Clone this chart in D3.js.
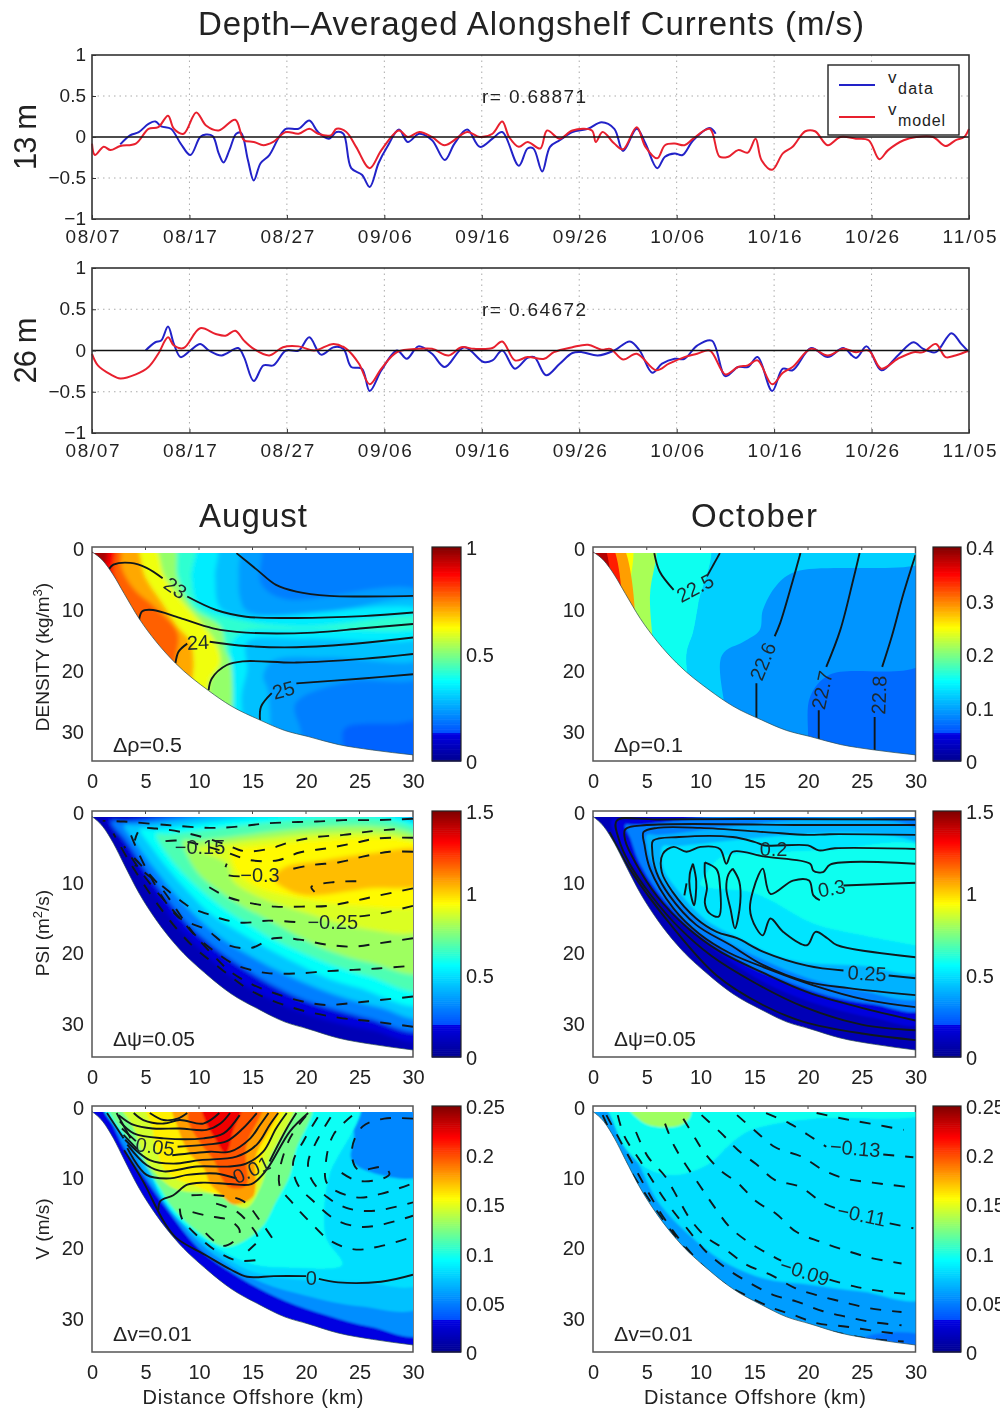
<!DOCTYPE html>
<html><head><meta charset="utf-8">
<script src="https://cdn.jsdelivr.net/npm/d3@7"></script>
<style>html,body{margin:0;padding:0;background:#fff}svg{display:block;filter:blur(0.55px)}text{font-family:"Liberation Sans",Arial,sans-serif;fill:#222}</style>
</head><body><div id="c"></div>
<script>
// ---------- time series ----------
const dateLabels=["08/07","08/17","08/27","09/06","09/16","09/26","10/06","10/16","10/26","11/05"];
const dateTicks=[0,10,20,30,40,50,60,70,80,90];
const days13Data=[2.9,3.9,4.8,5.8,6.5,7.1,8.1,9.1,10.1,11.1,11.7,12.4,13,13.5,14.1,14.8,15.3,16,16.6,17.3,18.2,19.2,19.9,21.2,22.3,23.2,24.3,25.1,25.8,26.6,27.7,28.5,29.4,30.3,31.5,32.4,33.6,34.9,36.2,37.2,38.5,39.8,41.1,42.1,43.8,44.7,45.3,46.2,47,48,49.3,50.9,52.3,53.6,54.5,55.9,56.8,58,58.8,59.8,60.6,61.7,63.4,64];
const v13Data=[-.09,.02,.06,.16,.19,.13,.10,-.08,-.22,0,.03,.01,-.20,-.31,-.16,.04,.05,-.28,-.53,-.32,-.22,0,.10,.10,.20,.06,-.02,.06,.04,-.38,-.46,-.61,-.32,-.12,.09,-.06,.04,-.04,-.28,-.08,.09,-.12,-.02,.06,-.35,-.14,-.14,-.42,-.12,-.04,.06,.10,.18,.10,-.17,.10,-.08,-.38,-.24,-.20,-.22,-.04,.11,.04];
const days13Model=[0,.3,1.2,1.9,2.9,4.5,5.8,6.8,7.8,8.4,9.4,10.7,11.7,13,14.7,15.6,16.6,17.6,18.6,19.9,21.2,22.3,23.2,24.5,25.1,26.1,27.1,28.5,29.7,31.5,32.4,33.6,34.9,36.2,38.5,39.8,41.1,42.1,42.8,43.8,44.7,46,46.7,48,49.3,51.3,51.7,52.4,53.6,54.5,55.9,56.8,58,58.8,59.8,60.8,61.7,63.4,64.4,65.3,66.3,67.3,68.1,68.7,69.8,70.9,71.9,73.2,74.2,75.5,76.8,78.4,79.7,80.8,81.7,83.3,84.6,86.3,87.6,88.6,89.5,90];
const v13Model=[-.08,-.22,-.12,-.16,-.11,-.08,.10,.12,.26,.10,.04,.30,.14,.08,.21,-.04,-.06,-.10,-.06,.06,.04,.10,.04,.02,.10,.06,-.12,-.38,-.16,.08,0,.06,0,-.10,.06,0,.04,.19,0,-.12,-.06,-.14,.08,-.02,.08,.08,-.06,.06,-.08,-.15,.12,-.12,-.26,-.10,-.08,-.10,-.02,.10,-.24,-.24,-.16,-.19,-.02,-.28,-.40,-.20,-.12,.07,.07,-.10,0,-.02,-.04,-.27,-.16,-.04,0,0,-.11,-.04,0,.10];
const days26Data=[5.5,6.5,7.1,7.8,8.4,9.1,10.1,11.1,12,13.3,15,15.6,16.6,17.6,18.6,19.9,21.2,22.3,23.5,24.8,25.8,26.6,27.7,28.5,29.7,31.3,32.3,33.5,34.9,36.2,38.2,40.2,41.1,42.1,43.4,44.7,45.4,46.6,48,49.3,50.3,51.9,53.6,55.2,56.2,57.5,58.5,59.8,60.8,62.1,63.6,65,66.3,67.3,68.3,69.8,70.9,71.9,73.8,75.5,77.1,78.4,79.5,81,82.7,84.3,85.3,86.6,88.2,89.2,90];
const v26Data=[0,.10,.12,.29,.08,-.08,0,.08,0,-.06,.03,-.08,-.37,-.18,-.18,0,0,.16,-.05,.04,.02,-.20,-.22,-.49,-.24,0,-.10,.05,-.04,-.20,.04,-.14,-.12,0,-.22,-.09,-.08,-.30,-.16,-.03,-.02,-.06,0,.11,0,-.27,-.16,-.10,-.10,.06,.12,-.31,-.20,-.20,-.08,-.49,-.22,-.24,.03,-.08,.03,-.09,.05,-.24,-.06,.10,.02,-.02,.21,.08,-.02];
const days26Model=[0,.6,1.9,2.9,4.5,5.8,6.8,7.8,8.4,9.4,11.1,12.7,13.7,14.7,15.6,16.6,18.2,19.6,21.2,22.8,24.8,26.1,27.4,28.5,29.7,31.3,33.6,34.9,36.6,37.9,39.2,41.1,42.1,43.4,44.7,46.4,47.4,49.3,50.9,52.3,53.2,54.5,55.9,57.9,59.2,60.8,62.1,63.4,65,66.3,67.3,68.3,69.8,70.9,71.9,73.8,75.5,77.1,78.4,79.7,81,82.7,84.3,85.3,86.6,87.6,88.6,90];
const v26Model=[-.04,-.18,-.29,-.34,-.29,-.20,-.04,.16,.06,.03,.27,.20,.18,.24,.12,.02,-.06,.04,.05,0,.08,.02,-.16,-.41,-.22,-.02,.02,.02,-.06,.04,.02,.03,.11,-.12,-.08,-.10,-.02,.04,.07,.01,.02,-.11,-.04,-.24,-.16,-.08,-.04,0,-.29,-.20,-.18,-.12,-.41,-.27,-.20,.02,-.06,.02,-.02,0,-.22,-.10,-.02,-.02,.08,-.08,-.06,0];

// ---------- shelf section ----------
const bathyKm=[0,1,2,3,4.4,6,7.8,10.9,13,15.7,18,20.2,23,26.2,30];
const bathyZ=[.8,2.2,4.6,7.6,11.7,15.5,19,23.5,26,28.3,30,31,32.3,33.2,34];

// filled regions: [colour level, outline as [km, depth]...], painted in order
const densAugBase=.16;
const densAugBands=[
[.20,[[-1,-1],[31,-1],[31,27.2],[23.6,29.7],[23.6,33.8],[23.6,36],[-1,36]]],
[.24,[[-1,-1],[15.5,-1],[15.8,6],[18,8.5],[31,7.5],[31,21],[24,22],[19,25.6],[19.5,30],[20,36],[-1,36]]],
[.29,[[-1,-1],[13.5,-1],[13.7,4],[13.8,8],[14.5,10.5],[22,10.5],[31,9],[31,18],[22,18],[17,18.5],[16,21],[16.5,24],[15.5,36],[-1,36]]],
[.35,[[-1,-1],[11.5,-1],[11.5,5],[12,10],[15,11.5],[31,10.5],[31,14.5],[20,15],[14.5,15.5],[14.5,20],[14,24],[13.5,36],[-1,36]]],
[.42,[[-1,-1],[9.5,-1],[9.3,5],[10,9.5],[14,12],[20,13],[31,11.5],[31,13],[20,13.5],[14,14],[13,16],[13,20],[12,36],[-1,36]]],
[.52,[[-1,-1],[7.5,-1],[8,5],[9.5,10],[12,13],[12.5,17],[13,19],[11.5,36],[-1,36]]],
[.61,[[-1,-1],[5.5,-1],[6.8,5],[8.5,9],[10,12],[11.5,15.5],[12,19],[11,22],[10.5,36],[-1,36]]],
[.71,[[-1,-1],[3.8,-1],[5,5],[6.5,9],[8,13],[9.2,15.5],[9.5,19],[9.3,23],[9,36],[-1,36]]],
[.78,[[-1,-1],[2.5,-1],[2.8,3.5],[4,7],[6,10],[8,14],[7.8,19],[7,36],[-1,36]]],
[.88,[[-1,-1],[2,-1],[2,4],[2.3,6.5],[-1,8]]],
[.96,[[-1,-1],[1.2,-1],[1.2,3],[-1,3]]]
];
const densOctBase=.17;
const densOctBands=[
[.23,[[-1,-1],[31,-1],[31,18.7],[22,20.9],[20.2,24.5],[20,31],[20,36],[-1,36]]],
[.31,[[-1,-1],[31,-1],[31,2.3],[18.9,4],[17.1,6.2],[15.8,10.3],[15.5,13.6],[14,15.5],[12,17.7],[12,36],[-1,36]]],
[.39,[[-1,-1],[10.7,-1],[9.8,9.2],[9.3,14],[8.7,17.4],[8.8,36],[-1,36]]],
[.54,[[-1,-1],[5.6,-1],[5.3,8],[5.3,36],[-1,36]]],
[.62,[[-1,-1],[3.4,-1],[3.4,8],[3.4,36],[-1,36]]],
[.72,[[-1,-1],[2.5,-1],[2.5,36],[-1,36]]],
[.85,[[-1,-1],[1.55,-1],[1.55,36],[-1,36]]],
[.95,[[-1,-1],[.8,-1],[.8,36],[-1,36]]]
];
const psiAugBase=.06;
const psiAugBands=[
[.12,[[31,1.1],[2,1.1],[1.2,1.1],[2.5,3.8],[4.4,8.5],[6,12],[7.8,16],[10.9,20.8],[13,23.5],[15.7,26],[18,27.7],[20.2,29],[23,30.2],[26.2,31.2],[31,32.4]]],
[.20,[[31,1.5],[3,1.5],[1.8,1.5],[3.3,4.5],[5,8.4],[7,12.5],[9,16.2],[11.5,19.5],[14,22.2],[17,24.9],[20,27],[23,28.4],[26,29.6],[31,31]]],
[.30,[[31,2],[4,2],[3,2],[4.3,5],[6,8.5],[8,12.2],[10,15.4],[12.5,18.5],[15,20.8],[18,23.2],[21,25.2],[24,26.8],[27,28],[31,29.3]]],
[.38,[[31,2.6],[5.5,2.6],[4.5,2.6],[5.5,5],[7,8],[9,11.5],[11,14.5],[13.5,17],[16,19.2],[19,21.6],[22,23.8],[25,25.2],[31,27.4]]],
[.45,[[31,3.3],[7,3.3],[6,3.3],[6.5,5],[8,8],[10,11],[12,13.5],[14.5,16],[17,18.3],[20,20.4],[23,22.2],[26,23.6],[31,25.4]]],
[.53,[[31,4.2],[9.5,4.2],[8.5,4.2],[8.8,6],[10,9],[12,11.5],[14,13.5],[16.5,15.5],[19,17.6],[22,19.8],[26,21.6],[31,22.8]]],
[.59,[[31,4.9],[11,4.9],[9.8,5.4],[12.6,7.5],[13.2,10],[16,12.5],[20,14.5],[25.3,16.7],[31,16.7]]],
[.63,[[31,5.2],[14,5.2],[13,5.4],[13.5,8.5],[15,10.5],[18,12],[25,13.5],[31,13]]],
[.69,[[17,9.6],[18,8],[21.6,7],[26,6],[31,5.7],[31,10.3],[26,11],[20,12],[18,11]]]
];
const psiOctBase=.06;
const psiOctBands=[
[.12,[[31,1.3],[3,1.3],[1.7,1.3],[3,6.2],[5,10.2],[7,13.8],[9,16.8],[11.5,20],[15,23.6],[18,25.9],[22,28],[26,29.4],[31,30]]],
[.20,[[31,2],[4,2],[3,2],[3.5,4],[4.2,7],[6,11.5],[8.5,15.8],[11,18.8],[14.5,22],[18,24.3],[22,26.4],[26,27.5],[31,28]]],
[.27,[[31,3.4],[6,3.4],[5,3.4],[5,5],[5.5,7.5],[7.5,12],[10,15.8],[13,19],[16,21.3],[20,23.8],[25,25.6],[31,26.2]]],
[.34,[[31,5.4],[7.5,5],[6.5,5],[6.5,8],[8,11.5],[10.5,15.5],[13.5,18],[17,20.6],[20,21.6],[25,22],[31,22.6]]],
[.39,[[31,5.5],[22,5.5],[16,6],[12,6.5],[10.5,9],[10,10.5],[14.6,11.5],[16.5,12.7],[20.5,16],[25.2,17.7],[30,19.1],[31,19.4]]]
];
const vAugBase=.125;
const vAugBands=[
[.22,[[-1,-1],[31,-1],[31,32.3],[26,31.4],[22,29.8],[18,27.7],[14,24.6],[10,20.3],[7,14.7],[5,10.4],[3,6],[.5,-1]]],
[.29,[[-1,-1],[31,-1],[31,28.3],[25,28.5],[20,27],[16,25.2],[13,22.8],[10,19.4],[7,14],[5,9.5],[1,-1]]],
[.33,[[-1,-1],[31,-1],[31,25],[25,25],[20,24.8],[15,23.6],[12,21],[9,17.4],[7,13.5],[5,8],[1,-1]]],
[.21,[[24.4,-1],[24.5,4.6],[24.2,7.4],[25.3,9],[31,9.8],[31,-1]]],
[.385,[[1,-1],[25,-1],[22.2,9.8],[21.7,15],[21.9,18.8],[23.4,22.6],[19,23],[15,22.5],[12,20.5],[10,18.5],[8,16],[6.5,13],[5,8]]],
[.49,[[1.5,-1],[20.5,-1],[19,6.5],[18.5,9.8],[17.2,13.6],[16,17],[14.1,19.3],[12.3,20],[9.8,17.8],[7.3,14],[6.5,12],[4.5,7]]],
[.58,[[2.6,-1],[18.8,-1],[16.6,7.5],[15.7,11.7],[14.4,14.5],[11.6,12.6],[7.6,11.7],[5.1,7.9],[3.9,3.2]]],
[.64,[[5,-1],[17.8,-1],[16,7],[15.5,10],[15,13],[13,13.2],[10,11.6],[7,9.5],[6,6],[5.6,3]]],
[.72,[[7.5,-1],[17.5,-1],[15.3,7.3],[15.3,11],[15,13],[13.2,14],[12,12.5],[11,11],[10.5,9],[9,6.5],[8,3]]],
[.79,[[9.5,-1],[16,-1],[14.4,5.9],[14.4,11.3],[12.9,11.6],[12,10],[11.5,8],[10,5],[9,2]]],
[.89,[[10.2,-1],[14.1,-1],[13.2,3.5],[12.5,6.8],[11.6,4.9],[10.7,2.5]]]
];
const vOctBase=.24;
const vOctBands=[
[.18,[[22,36],[26,32.5],[31,33],[31,36]]],
[.33,[[-1,-1],[31,-1],[31,27.1],[25,26.4],[20,25.4],[15.8,24.5],[12,22],[9,18.4],[6,13.5],[4,7.5],[1,0]]],
[.39,[[-1,-1],[31,-1],[31,1],[20.5,1.8],[16.4,2.7],[14.3,3.7],[12.7,5.5],[10.8,8.2],[7.8,9.8],[5.3,9.1],[3,6],[1,0]]],
[.53,[[3.3,0],[5,2.6],[8,2.8],[9,1.6],[9,0]]]
];

// contour lines as [km, depth] paths
const densAugLines=[
[[13.5,1],[15.4,3.7],[17.2,6.2],[19.1,7.3],[22.2,8],[25.3,8.1],[30,8]],
[[1.6,3.6],[2,2.9],[3.6,2.6],[5.1,3.4],[6.6,5.1]],
[[8.9,8.1],[11.6,10.3],[14.4,11.4],[19.1,11.6],[25.3,11.3],[30,10.7]],
[[4.4,11.9],[4.7,10.5],[5.7,10.3],[8.2,11.6],[11.3,13.3],[14.4,14],[20.7,14],[25.3,13.3],[30,12.6]],
[[7.8,19],[8.1,17.1],[8.9,15.8]],
[[11,15.5],[14.4,16.2],[19.1,16.4],[25.3,15.7],[30,14.8]],
[[10.9,23.4],[11.2,21.5],[12.6,19.3],[14.1,18.7],[19.1,18.9],[25.3,18.3],[30,17.5]],
[[15.7,28.3],[15.8,26.1],[16.8,23.9]],
[[19.1,22.3],[25.3,21.5],[30,20.8]]
];
const densOctLines=[
[[5.7,1],[6.2,4],[7.5,7]],
[[10.6,4.8],[11.8,1]],
[[19.3,1],[18.6,5.4],[17.4,12.5],[16.9,14.6]],
[[15.2,22.3],[15.2,28.3]],
[[24.8,1],[24.2,5.4],[23,13.6],[21.7,19.6]],
[[21,26.7],[21,31.7]],
[[30,1.3],[28.9,7.5],[27.8,14.6],[26.9,19.6]],
[[26.2,27.8],[26.2,33.2]]
];
const psiAugLines=[
[[30,1.1],[28.4,1.2],[26,1.3],[23.5,1.3],[21,1.5],[18.5,1.6],[16,1.8],[13.8,2.2],[11,2.4],[7,2],[3,1.5],[1,1.4]],
[[28.3,2.6],[26,2.9],[23.5,3.4],[21,3.7],[18.6,4.4],[16.5,5.4],[14.2,5.7],[12.4,4.7],[9,3.2],[6,2.5],[4.5,2.6],[4,4.2]],
[[30,3.8],[26.7,3.9],[24.4,4.6],[22,5.3],[19.4,5.9],[17.4,7],[14.8,7],[12,5.6],[8,4.2],[6,4.5]],
[[30,5.8],[27.8,5.8],[25.3,6.5],[23.1,7.3],[20.5,7.7],[18.3,8.4]],
[[13.8,9.3],[12.4,8.9],[12.6,7.5]],
[[24.7,10],[22.7,10.1],[20.5,10.8],[20.8,11.5]],
[[30,11],[26.9,12],[24.5,12.8],[22,13.5],[19.6,13.6],[17.1,13.6],[14.8,13.1],[12.6,12.2],[10.9,10.8]],
[[30,13.5],[26.9,14.6],[25,15]],
[[19,15.8],[16.5,15.6],[14,15.9],[12,15.3],[10.7,14.6],[9.3,13.8],[7.9,12.3],[6.4,10.5],[4,7.7]],
[[30,18.1],[26.9,18.8],[24.4,19.3],[21.9,19],[19.4,18.3],[17,18.1],[14.8,19.5],[12.6,19],[10.7,16.9],[8,15],[5,8],[3.6,3.3]],
[[29.2,22.1],[26.7,22.4],[24.4,22.6],[21.9,22.8],[19.4,23.1],[16.6,23.1],[15.4,22.8],[13.4,21.9],[11.3,19.8],[9.5,17.4],[6.4,10.8],[3.7,6.3]],
[[30,26.4],[26.9,26.9],[24.4,27.3],[21.9,27.6],[19.7,27.1],[17.2,26],[15,24.7],[12.9,22.8],[11,20],[7.5,14],[5,9.5],[3,5]],
[[30,30.7],[26,29.9],[23,29.4],[19,28.1],[15,25.7],[12,22.4],[9,18.6],[6,13],[3.5,7.2],[2,3.2]]
];
const psiOctLines=[
[[30,32.6],[25.2,31.7],[19.6,30],[15.8,27.6],[11.5,23.4],[7.5,16.7],[3.4,8.2],[1.55,3]],
[[30,1.2],[6,1.2],[2.2,1.4],[2.4,4],[3.4,7.5],[5.5,12.2],[8,16.6],[11,20.6],[15,24.4],[19.5,27.8],[25,30.4],[30,31.2]],
[[30,2],[20,2],[5,2],[3,2.6],[3,4.2],[4,7.5],[6,12.2],[8.7,16.5],[11.7,19.9],[15.8,23],[20,25.8],[25,28],[30,29.8]],
[[30,3.4],[22,3.3],[20,3.4],[16,3],[10,2.4],[6,2.4],[4.7,3],[4.8,4.9],[5.3,8.2],[7.5,13.9],[9.9,17.5],[12.7,20.2],[16.5,22.6],[20.5,24.8],[25.2,26.8],[30,27.9]],
[[30,5.4],[22.5,5.3],[21,5.6],[20,4.9],[16,4.9],[15,4.4],[13,3.7],[8,3.7],[5.6,4.2],[5.5,5.4],[5.9,8.7],[7.1,12],[9.6,16.2],[12.7,19],[15.8,21.9],[19.9,24.3],[23.8,25.2],[30,26.2]],
[[30,7.5],[22.1,7.6],[21.4,8.7],[20.5,8.5],[20.2,7.5],[16,6.5],[13,5.8],[12.4,7.5],[11.8,5.4],[10,5.1],[8.7,5.8],[7.5,5.1],[6.5,6.1],[6.4,8.7],[7.4,11.5],[9.6,15.3],[11.5,17.2],[13.4,18.1],[15.8,20],[19.9,22],[23.3,22.7]],
[[27.5,23.4],[30,23.8]],
[[30,10.2],[23.3,10.6]],
[[21.1,12.7],[20.5,12],[20.1,9.9],[18.6,9.9],[16.5,11.8],[15.8,8.2],[15.4,9.1],[14.6,13.9],[15.2,16.7],[15.8,17.7],[16.5,15.3],[17.7,17.2],[19.9,19.1],[20.7,17.2],[21.8,18.1],[22.7,19.1],[30,20.8]],
[[9.3,7.5],[9.6,10],[9.4,13.4],[9,11],[9,9],[9.3,7.5]],
[[10.4,7.3],[11.5,8.3],[11.8,10.5],[11.7,15],[10.8,14.5],[10.4,13],[10.6,11],[10.4,9],[10.4,7.3]],
[[13,8.2],[13.6,10],[13.7,13],[13.2,16.7],[12.8,14],[12.4,11],[12.6,9],[13,8.2]],
[[8.7,10.3],[8.5,12]]
];
const vAugSolid=[
[[30,24],[27,25],[23,25.1],[21.2,24.6]],
[[20,24.2],[17,24.2],[14.5,24.3],[13,23.3],[10.6,21.2],[7.9,18.8],[6.7,16.4],[4.8,10.8],[3,6.3]],
[[6.2,14.8],[6.4,13.5],[7.6,12.7],[8.9,11.2],[10.4,10.9],[12.9,11.1],[14.9,11.1],[16.3,9.1],[18.5,3.6],[20.2,1]],
[[3.3,6],[5.1,9.8],[7.3,10.3],[8.9,9.8],[11.6,9.6],[13.5,10.3]],
[[16.6,7.9],[18.2,3.2],[19.1,1]],
[[3.3,5.5],[5.1,8.4],[6.7,9.3],[9.8,8.6],[12.9,8.6],[14.4,8.2],[16,6.5],[17.2,3.2],[18.2,1]],
[[3.1,4.8],[5.4,7.7],[7.6,8.2],[10.1,7.7],[13.5,7.2],[15.4,5.5],[16.6,2.7],[17.4,1]],
[[2.95,4.1],[4.2,6.1]],
[[7.5,7],[11,6.5],[12.9,6.5],[14.8,4.6],[15.7,2.7],[16.5,1]],
[[2.8,3.2],[4.1,5]],
[[8,5.8],[10.7,5.5],[12.6,5],[14.1,3.2],[15.4,1]],
[[2.6,2.2],[3.9,3.9],[6.7,4.6],[10.4,4.6],[12.3,3.9],[13.8,1.3]],
[[2.5,1.3],[3.9,2.7],[5.7,3.2],[8.2,3.2],[10.7,3.4],[12,2.5],[12.9,1]],
[[3.9,1],[4.8,2],[6.7,2.5],[8.2,2],[10.4,2.5],[11.9,1]],
[[5.4,1],[6.7,2],[8,1.8],[8.9,1]],
[[1.4,1],[2.95,4.6]],
[[2.3,1],[3.6,4.6]]
];
const vAugDashed=[
[[30,1.8],[27.3,1.8],[25.3,2.9],[24.3,6.1],[24.8,9],[27.3,8.7],[27.8,9.7],[27,10.4],[24.7,10.6],[22.6,8.7]],
[[24.3,1.4],[22.6,4],[21.9,7.5],[22,11.1],[24.7,13],[27,12.5],[30,11]],
[[22.3,1.6],[21.1,4.7],[20.2,8],[20.5,10.4],[22,13],[24,14.6],[26.5,14.9],[30,13.7]],
[[21.1,1.6],[19.8,4.9],[18.8,8],[19.2,11.1],[20.8,13.7],[22.8,16.2],[25.1,17.2],[27.3,16.8],[30,15.6]],
[[20,1.4],[18.4,4.9],[17.5,11.1],[18.8,13.9],[20.5,16.7],[22.2,19.1],[24.5,20.4],[26.8,20],[30,18.6]],
[[9.3,12.7],[11.6,12.7],[14.1,13.5],[15.7,16.3],[17.2,19.6]],
[[11.6,13.9],[13.6,15.1],[15.3,18],[15.5,18.7]],
[[9.4,15.1],[10.7,15.6],[12.9,16.3],[13.8,17.7],[13.5,18.9],[12.2,19.9],[10.4,17.7]],
[[8.2,14.6],[8.4,16],[9.8,18.4],[11.6,20.6],[13.6,22],[16,21.8]],
[[14.6,20.6],[15.3,19.6]]
];
const vOctLines=[
[[20.8,1],[23.4,1.85],[25.8,2.5],[28.9,3.4]],
[[16.1,1],[18.3,2.5],[20.5,4.6],[21.7,5.8]],
[[27,6.9],[29.8,7.3]],
[[13.4,1.3],[15.2,3.7],[17,5.9],[19.4,7.2],[21.4,9.1],[23.4,10.3],[26,10.9],[29.2,11.5]],
[[10.1,1.3],[11.95,3.9],[13.5,6.3],[15.2,8.3],[16.9,10.5],[19.25,11.5],[21.4,13.8],[22.5,14.5]],
[[27.6,16.7],[29.8,17.4]],
[[8.4,1.8],[9.5,4.6],[10.3,6.5],[11.8,9.1],[13.5,11],[15.2,13.6],[17,15.3],[18.9,17.9],[21.1,19.3],[23.4,20.5],[25.8,21.6],[28.7,22.4]],
[[6.7,2.5],[7.6,5.8],[10.1,11.7],[11.5,14.8],[12.7,17.2],[14.4,19.3],[16.5,21.2],[17.5,22]],
[[22,24.7],[24.4,25.7],[27,26.4],[29.8,26.8]],
[[4,3.7],[5.1,7.2],[6.7,10],[8,13.4],[9,16],[10.5,18.6],[12.4,20.5],[14.3,22.6],[16.5,24],[18.8,25.9],[20.8,26.9],[23.3,27.9],[25.8,28.8],[28.7,29.3]],
[[2.3,1.3],[2.95,4.4],[4.35,7.7],[6.8,13.6],[9,17.9],[10.5,20.7],[12.4,23.1],[14.6,25.2],[16.8,26.9],[18.9,27.8],[21.4,29.2],[23.6,30],[25.8,30.7],[28.7,31.2]],
[[1.25,1.3],[3.4,7.4],[6.2,15],[8.7,20.2],[11.5,24.5],[14.3,27],[16.8,28.8],[18.6,29.7],[20.8,30.9],[23.6,31.4],[26.7,32.1],[28.9,32.5]],
[[.9,1.3],[2.8,7.4],[4.95,12.7],[7.8,18.8],[10.55,23.6],[14,27.3],[18,30.2],[20.5,31.4],[25.2,33],[28.9,33.5]]
];
// contour labels: text, km, depth, rotation
const densAugLabels=[["23",7.8,6.7,35],["24",9.9,15.6,-3],["25",17.9,23.4,-15]];
const densOctLabels=[["22.5",9.5,6.7,-28],["22.6",15.8,18.7,-68],["22.7",21.3,23.4,-78],["22.8",26.6,24.2,-88]];
const psiAugLabels=[["−0.15",10.1,5.1,0],["−0.3",15.7,9.1,0],["−0.25",22.5,15.8,0]];
const psiOctLabels=[["0.2",16.8,5.4,0],["0.3",22.2,11,-10],["0.25",25.5,23.1,3]];
const vAugLabels=[["0.05",5.9,5.8,8],["0.01",14.9,9.1,-25],["0",20.5,24.5,0]];
const vOctLabels=[["−0.13",24.4,6,5],["−0.11",25,15.5,12],["−0.09",19.7,23.6,18]];
const kmTicks=[0,5,10,15,20,25,30];
const depthTicks=[0,10,20,30];
const cbDensAug=["0","0.5","1"], cbDensOct=["0","0.1","0.2","0.3","0.4"];
const cbPsi=["0","0.5","1","1.5"], cbV=["0","0.05","0.1","0.15","0.2","0.25"];

// ---------- drawing ----------
const W=1000,H=1412;
const svg=d3.select("#c").append("svg").attr("width",W).attr("height",H).attr("viewBox",`0 0 ${W} ${H}`);
const defs=svg.append("defs");
[["soft6",.6],["soft10",1],["soft18",1.9]].forEach(([id,s])=>{
 defs.append("filter").attr("id",id).attr("x","-5%").attr("y","-5%").attr("width","110%").attr("height","110%")
  .append("feGaussianBlur").attr("stdDeviation",s);});
const jet=d3.scaleLinear().domain([0,.13,.135,.375,.625,.875,1]).range(["#00008f","#0000e4","#0050ff","#00ffff","#ffff00","#ff0000","#800000"]).interpolate(d3.interpolateRgb).clamp(true);
function spaced(sel,len){return sel.attr("textLength",len).attr("lengthAdjust","spacing");}
function stretched(sel,len){return sel.attr("textLength",len).attr("lengthAdjust","spacingAndGlyphs");}
function txt(x,y,s,size,anchor,rot){const t=svg.append("text").attr("x",x).attr("y",y).attr("font-size",size).attr("text-anchor",anchor||"middle").text(s);
 if(rot)t.attr("transform",`rotate(${rot} ${x} ${y})`);return t;}

spaced(txt(531,35,"Depth–Averaged Alongshelf Currents (m/s)",33),666);
spaced(txt(253,527,"August",33),108);
spaced(txt(754,527,"October",33),126);

function series(top,bottom,dD,vD,dM,vM,rLabel,yName,legend){
 const L=92,R=969;
 const x=d3.scaleLinear().domain([0,90]).range([L,R]);
 const y=d3.scaleLinear().domain([-1,1]).range([bottom,top]);
 const g=svg.append("g");
 g.append("rect").attr("x",L).attr("y",top).attr("width",R-L).attr("height",bottom-top).attr("fill","#fff");
 g.append("g").selectAll("line").data(dateTicks.slice(1,-1)).join("line").attr("x1",d=>x(d)).attr("x2",d=>x(d)).attr("y1",top).attr("y2",bottom).attr("stroke","#aaa").attr("stroke-dasharray","1.5 4");
 g.append("g").selectAll("line").data([-.5,.5]).join("line").attr("y1",d=>y(d)).attr("y2",d=>y(d)).attr("x1",L).attr("x2",R).attr("stroke","#aaa").attr("stroke-dasharray","1.5 4");
 const ln=d3.line().x(d=>x(d[0])).y(d=>y(d[1])).curve(d3.curveCatmullRom.alpha(.5));
 g.append("path").attr("d",ln(d3.zip(dD,vD))).attr("fill","none").attr("stroke","#2222c8").attr("stroke-width",2);
 g.append("path").attr("d",ln(d3.zip(dM,vM))).attr("fill","none").attr("stroke","#e8202e").attr("stroke-width",2);
 g.append("line").attr("x1",L).attr("x2",R).attr("y1",y(0)).attr("y2",y(0)).attr("stroke","#111").attr("stroke-width",1.6);
 const ax=d3.axisBottom(x).tickValues(dateTicks).tickFormat((d,i)=>dateLabels[i]).tickSizeInner(-4).tickSizeOuter(0).tickPadding(11);
 const gx=g.append("g").attr("transform",`translate(0,${bottom})`).call(ax);
 gx.selectAll("text").attr("font-size",19).attr("fill","#222").each(function(){spaced(d3.select(this),54)});
 const ay=d3.axisLeft(y).tickValues([-1,-.5,0,.5,1]).tickFormat(d=>d<0?"−"+Math.abs(d):""+d).tickSizeInner(-4).tickSizeOuter(0).tickPadding(6);
 const gy=g.append("g").attr("transform",`translate(${L},0)`).call(ay);
 gy.selectAll("text").attr("font-size",19).attr("fill","#222").attr("dy","0.3em");
 g.selectAll(".domain").attr("stroke","none");
 g.selectAll(".tick line").attr("stroke","#333");
 g.append("rect").attr("x",L).attr("y",top).attr("width",R-L).attr("height",bottom-top).attr("fill","none").attr("stroke","#333").attr("stroke-width",1.6);
 spaced(txt(482,y(.5)+6.5,rLabel,19,"start"),104);
 spaced(txt(36,y(0),yName,31,"middle",-90),66);
 if(legend){
  const lg=svg.append("g");
  lg.append("rect").attr("x",828).attr("y",65).attr("width",131).attr("height",70).attr("fill","#fff").attr("stroke","#222").attr("stroke-width",1.4);
  lg.append("line").attr("x1",839).attr("x2",875).attr("y1",85).attr("y2",85).attr("stroke","#2222c8").attr("stroke-width",2);
  lg.append("line").attr("x1",839).attr("x2",875).attr("y1",117).attr("y2",117).attr("stroke","#e8202e").attr("stroke-width",2);
  txt(888,83,"v",17,"start");spaced(txt(898,94,"data",16,"start"),35);
  txt(888,115,"v",17,"start");spaced(txt(898,126,"model",16,"start"),47);
 }
}
series(55,219,days13Data,v13Data,days13Model,v13Model,"r= 0.68871","13 m",true);
series(268,433,days26Data,v26Data,days26Model,v26Model,"r= 0.64672","26 m",false);

const rows=[{top:547,bottom:761,fillTop:.98},{top:811,bottom:1057,fillTop:.85},{top:1106,bottom:1352,fillTop:.85}];
const cols=[{l:92,r:413,cbL:432,cbR:461},{l:593,r:915.5,cbL:933,cbR:961}];
const bathy=d3.zip(bathyKm,bathyZ);
let clipId=0;
function panel(rowIdx,colIdx,base,bands,solid,dashed,labels,cbTicks,cbMax,delta,deltaLen,soft){
 const rw=rows[rowIdx],c=cols[colIdx];
 const x=d3.scaleLinear().domain([0,30]).range([c.l,c.r]);
 const y=d3.scaleLinear().domain([0,35]).range([rw.top,rw.bottom]);
 const g=svg.append("g");
 const id="clip"+(clipId++);
 const area=d3.area().x(d=>x(d[0])).y0(y(rw.fillTop)).y1(d=>y(d[1])).curve(d3.curveMonotoneX);
 g.append("clipPath").attr("id",id).append("path").attr("d",area(bathy));
 const ax=d3.axisBottom(x).tickValues(kmTicks).tickSizeInner(0).tickSizeOuter(0).tickPadding(13);
 const gx=g.append("g").attr("transform",`translate(0,${rw.bottom})`).call(ax);
 gx.selectAll("text").attr("font-size",20).attr("fill","#222");
 gx.select(".domain").attr("stroke","none");
 const ay=d3.axisLeft(y).tickValues(depthTicks).tickSizeInner(0).tickSizeOuter(0).tickPadding(8);
 const gy=g.append("g").attr("transform",`translate(${c.l},0)`).call(ay);
 gy.selectAll("text").attr("font-size",20).attr("fill","#222").attr("dy","0.42em");
 gy.select(".domain").attr("stroke","none");
 g.append("g").selectAll("line").data(kmTicks.slice(1,-1)).join("line").attr("x1",d=>x(d)).attr("x2",d=>x(d)).attr("y1",rw.top).attr("y2",rw.top+3).attr("stroke","#444");
 g.append("rect").attr("x",c.l).attr("y",rw.top).attr("width",c.r-c.l).attr("height",rw.bottom-rw.top).attr("fill","none").attr("stroke","#555").attr("stroke-width",1.5);
 const f=g.append("g").attr("clip-path",`url(#${id})`).append("g").attr("filter",`url(#${soft})`);
 f.append("rect").attr("x",c.l-25).attr("y",rw.top-25).attr("width",c.r-c.l+50).attr("height",rw.bottom-rw.top+50).attr("fill",jet(base));
 const poly=d3.line().x(d=>x(d[0])).y(d=>y(d[1])).curve(d3.curveCatmullRomClosed.alpha(.5));
 f.selectAll("path.b").data(bands).join("path").attr("class","b").attr("d",d=>poly(d[1])).attr("fill",d=>jet(d[0]));
 const ln=d3.line().x(d=>x(d[0])).y(d=>y(d[1])).curve(d3.curveCatmullRom.alpha(.5));
 const cl=g.append("g").attr("clip-path",`url(#${id})`).attr("fill","none").attr("stroke","#10181c").attr("stroke-width",1.9);
 cl.selectAll("path.s").data(solid).join("path").attr("class","s").attr("d",ln);
 cl.selectAll("path.d").data(dashed).join("path").attr("class","d").attr("d",ln).attr("stroke-dasharray","11 11");
 g.append("path").attr("d",d3.line().x(d=>x(d[0])).y(d=>y(d[1])).curve(d3.curveMonotoneX)(bathy)).attr("fill","none").attr("stroke","#2a4a50").attr("stroke-width",.7);
 labels.forEach(l=>{const px=x(l[1]),py=y(l[2]);
  svg.append("text").attr("x",px).attr("y",py).attr("dy","0.35em").attr("text-anchor","middle").attr("font-size",20).attr("transform",`rotate(${l[3]} ${px} ${py})`).attr("style","fill:#1c2a30").text(l[0]);});
 stretched(txt(c.l+21,y(32.4)+7,delta,20,"start"),deltaLen);
 const hh=rw.bottom-rw.top;
 const yc=d3.scaleLinear().domain([0,1]).range([rw.bottom,rw.top]);
 const steps=d3.range(0,1,1/128);
 const cb=svg.append("g");
 cb.selectAll("rect").data(steps).join("rect").attr("x",c.cbL).attr("width",c.cbR-c.cbL).attr("y",d=>yc(d+1/128)).attr("height",hh/128+.6).attr("fill",d=>jet(d+1/256));
 cb.append("rect").attr("x",c.cbL).attr("y",rw.top).attr("width",c.cbR-c.cbL).attr("height",hh).attr("fill","none").attr("stroke","#222").attr("stroke-width",1.2);
 const yt=d3.scaleLinear().domain([0,cbMax]).range([rw.bottom,rw.top]);
 cbTicks.forEach(t=>{txt(c.cbR+5,yt(+t)+8,t,20,"start");});
}
panel(0,0,densAugBase,densAugBands,densAugLines,[],densAugLabels,cbDensAug,1,"Δρ=0.5",69,"soft18");
panel(0,1,densOctBase,densOctBands,densOctLines,[],densOctLabels,cbDensOct,.4,"Δρ=0.1",69,"soft6");
panel(1,0,psiAugBase,psiAugBands,[],psiAugLines,psiAugLabels,cbPsi,1.5,"Δψ=0.05",82,"soft18");
panel(1,1,psiOctBase,psiOctBands,psiOctLines,[],psiOctLabels,cbPsi,1.5,"Δψ=0.05",82,"soft10");
panel(2,0,vAugBase,vAugBands,vAugSolid,vAugDashed,vAugLabels,cbV,.25,"Δv=0.01",79,"soft10");
panel(2,1,vOctBase,vOctBands,[],vOctLines,vOctLabels,cbV,.25,"Δv=0.01",79,"soft10");

spaced(txt(253,1404,"Distance Offshore (km)",20),221);
spaced(txt(755,1404,"Distance Offshore (km)",20),222);
function ylab(cx,cy,parts,size){const t=svg.append("text").attr("transform",`translate(${cx},${cy}) rotate(-90)`).attr("text-anchor","middle").attr("font-size",size);
 parts.forEach(p=>{const s=t.append("tspan").text(p[0]);if(p[1]){s.attr("dy",-7).attr("font-size",13);}if(p[2]){s.attr("dy",7);}});}
ylab(49,657,[["DENSITY (kg/m"],["3",true],[")",false,true]],19);
ylab(49,933,[["PSI (m"],["2",true],["/s)",false,true]],19);
ylab(49,1229,[["V (m/s)"]],19);
</script></body></html>
